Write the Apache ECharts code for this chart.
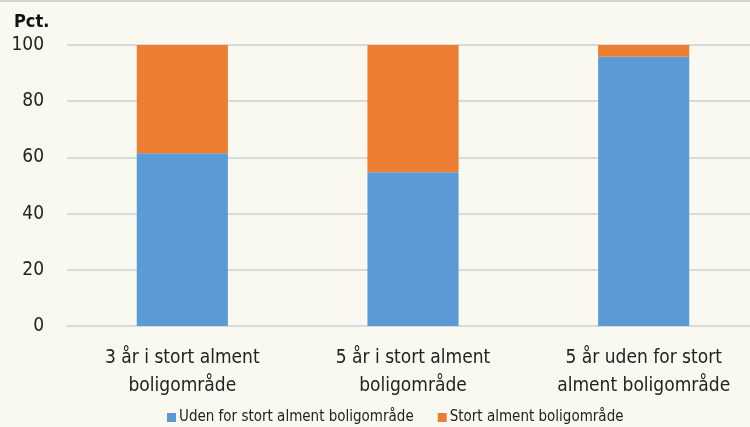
<!DOCTYPE html>
<html>
<head>
<meta charset="utf-8">
<script src="https://cdn.jsdelivr.net/npm/echarts@6/dist/echarts.min.js"></script>
<style>
  html, body { margin: 0; padding: 0; background: #f9f9f1; overflow: hidden; }
  #chart { width: 759px; height: 427px; border-top: 2px solid #d4d4d0; box-sizing: border-box; }
</style>
</head>
<body>
<div id="chart"></div>
<script>
const categories = ['3 år i stort alment\nboligområde', '5 år i stort alment\nboligområde', '5 år uden for stort\nalment boligområde']
const udenFor = [61.5, 54.7, 95.8]
const stort = [38.5, 45.3, 4.2]
const seriesNames = ['Uden for stort alment boligområde', 'Stort alment boligområde']

const font = '"Liberation Sans Narrow", "DejaVu Sans Condensed", sans-serif'
const chart = echarts.init(document.getElementById('chart'))
chart.setOption({
  backgroundColor: '#f9f9f1',
  animation: false,
  title: {
    text: 'Pct.',
    left: 9, top: 6,
    textStyle: { fontFamily: font, fontSize: 18, fontWeight: 'bold', color: '#111' }
  },
  grid: { left: 67, right: 0, top: 43, bottom: 101 },
  legend: {
    data: seriesNames,
    bottom: -3, left: 162,
    itemWidth: 9, itemHeight: 9, itemGap: 24,
    icon: 'rect',
    textStyle: { fontFamily: font, fontSize: 15, color: '#222', padding: [0, 0, 0, -2] }
  },
  xAxis: {
    type: 'category',
    data: categories,
    axisLine: { lineStyle: { color: '#d9d9d9', width: 2 } },
    axisTick: { show: false },
    axisLabel: { fontFamily: font, fontSize: 19, color: '#222', lineHeight: 28, margin: 18 }
  },
  yAxis: {
    type: 'value',
    min: 0, max: 100, interval: 20,
    axisLabel: { fontFamily: font, fontSize: 19, color: '#222', margin: 23 },
    splitLine: { lineStyle: { color: '#d9d9d9', width: 2 } }
  },
  series: [
    { name: seriesNames[0], type: 'bar', stack: 't', data: udenFor, barWidth: '39.5%',
      itemStyle: { color: '#5b9bd5' } },
    { name: seriesNames[1], type: 'bar', stack: 't', data: stort, barWidth: '39.5%',
      itemStyle: { color: '#ed7d31' } }
  ]
})
</script>
</body>
</html>
